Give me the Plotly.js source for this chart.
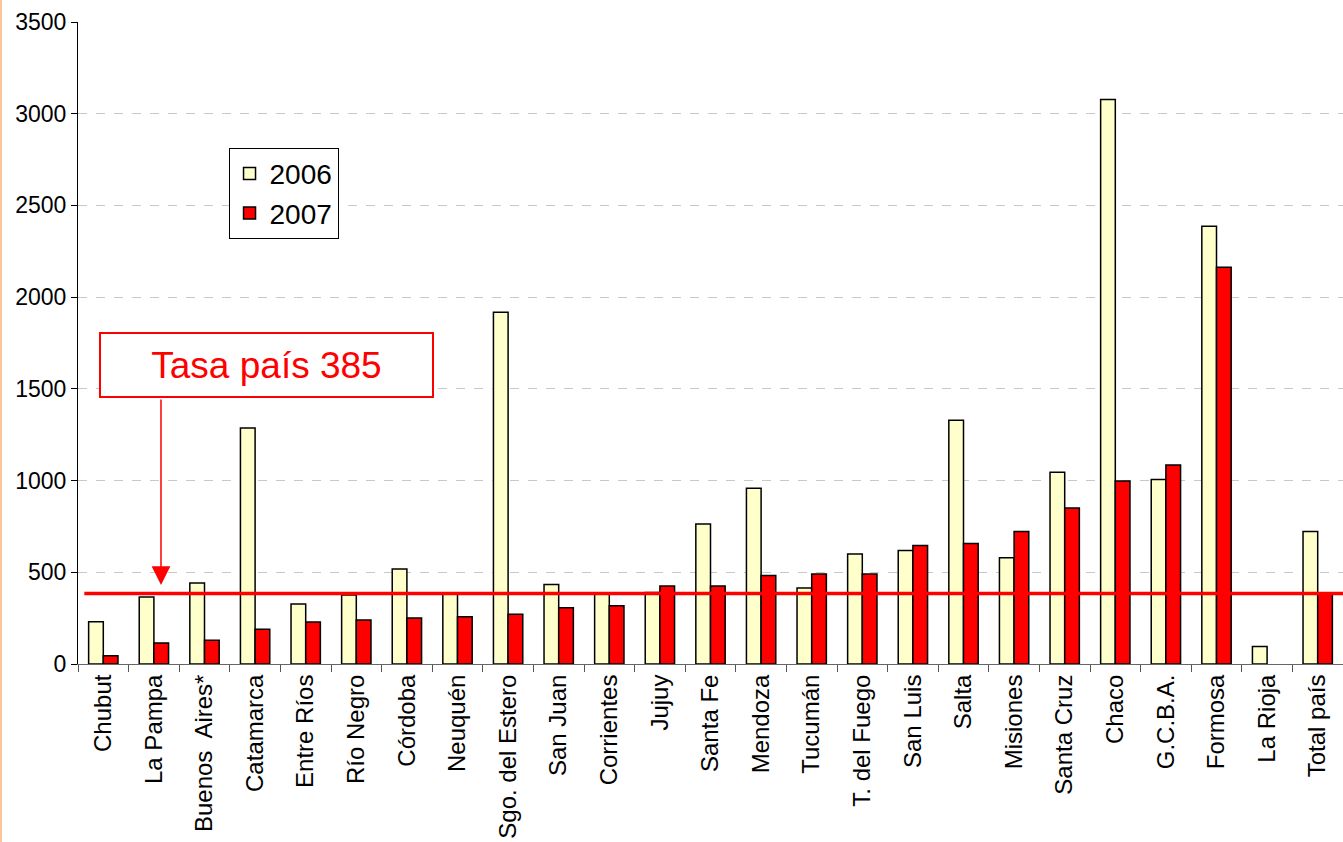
<!DOCTYPE html>
<html>
<head>
<meta charset="utf-8">
<script src="https://cdn.plot.ly/plotly-3.0.1.min.js"></script>
<style>html,body{margin:0;padding:0;background:#fff;}#chart{width:1343px;height:842px;}</style>
</head>
<body>
<div id="chart"></div>
<script>
const provincias = ["Chubut","La Pampa","Buenos  Aires*","Catamarca","Entre Ríos","Río Negro","Córdoba","Neuquén","Sgo. del Estero","San Juan","Corrientes","Jujuy","Santa Fe","Mendoza","Tucumán","T. del Fuego","San Luis","Salta","Misiones","Santa Cruz","Chaco","G.C.B.A.","Formosa","La Rioja","Total país"];
const valores2006 = [230,365,442,1287,327,376,518,387,1917,434,387,390,763,958,414,600,619,1329,579,1045,3077,1006,2386,96,723];
const valores2007 = [45,115,130,190,229,240,251,258,271,307,318,425,425,482,491,491,646,657,723,851,997,1085,2163,null,385];
const tasaPais = 385;
const etiquetaTasa = "Tasa país 385";

const font = "Liberation Sans, Arial, sans-serif";

const traces = [
  {type:"bar", name:"2006", x:provincias, y:valores2006, legendgroup:"a",
   marker:{color:"#ffffcc", line:{color:"#000", width:1.5}}},
  {type:"bar", name:"2007", x:provincias, y:valores2007, legendgroup:"b",
   marker:{color:"#ff0000", line:{color:"#000", width:1.5}}}
];

const layout = {
  width:1343, height:842,
  margin:{l:78, r:0, t:22, b:178},
  paper_bgcolor:"#fff", plot_bgcolor:"#fff",
  font:{family:font, color:"#000"},
  barmode:"group", bargap:0.42, bargroupgap:0,
  showlegend:true,
  legend:{x:0.119, y:0.804, xanchor:"left", yanchor:"top",
    font:{size:28, family:font, color:"#000"},
    bordercolor:"#000", borderwidth:1, bgcolor:"#fff",
    tracegroupgap:4, traceorder:"normal"},
  xaxis:{type:"category", tickangle:-90, tickfont:{size:24, family:font, color:"#000"},
    ticks:"outside", tickson:"boundaries", ticklen:7, tickcolor:"#555",
    showline:true, linecolor:"#666", linewidth:1, automargin:false, showgrid:false},
  yaxis:{range:[0,3500], dtick:500, tick0:0, tickfont:{size:23, family:font, color:"#000"},
    ticks:"outside", ticklen:6, tickcolor:"#000",
    showline:true, linecolor:"#000", linewidth:1,
    showgrid:true, gridcolor:"#c8c8c8", griddash:"dash", gridwidth:1,
    zeroline:false, automargin:false},
  shapes:[
    {type:"line", xref:"paper", yref:"y", x0:0.005, x1:1, y0:tasaPais, y1:tasaPais,
     line:{color:"#ff0000", width:3.5}, layer:"above"},
    {type:"line", xref:"paper", yref:"paper", x0:-0.0609, x1:-0.0609, y0:-0.3, y1:1.04,
     line:{color:"#f9c49a", width:2}}
  ],
  annotations:[
    {xref:"paper", yref:"paper", x:0.149, y:0.4657, xanchor:"center", yanchor:"middle",
     text:etiquetaTasa, showarrow:false, font:{size:37, family:font, color:"#ff0000"},
     bordercolor:"#ff0000", borderwidth:2, borderpad:0, width:331, height:62, bgcolor:"#fff"},
    {xref:"paper", yref:"paper", x:0.0656, y:0.123, text:"", showarrow:true,
     ax:0, ay:-187, arrowhead:2, arrowsize:2.5, arrowwidth:1.5, arrowcolor:"#ff0000", standoff:0}
  ]
};

Plotly.newPlot("chart", traces, layout, {displayModeBar:false, staticPlot:true});
</script>
</body>
</html>
